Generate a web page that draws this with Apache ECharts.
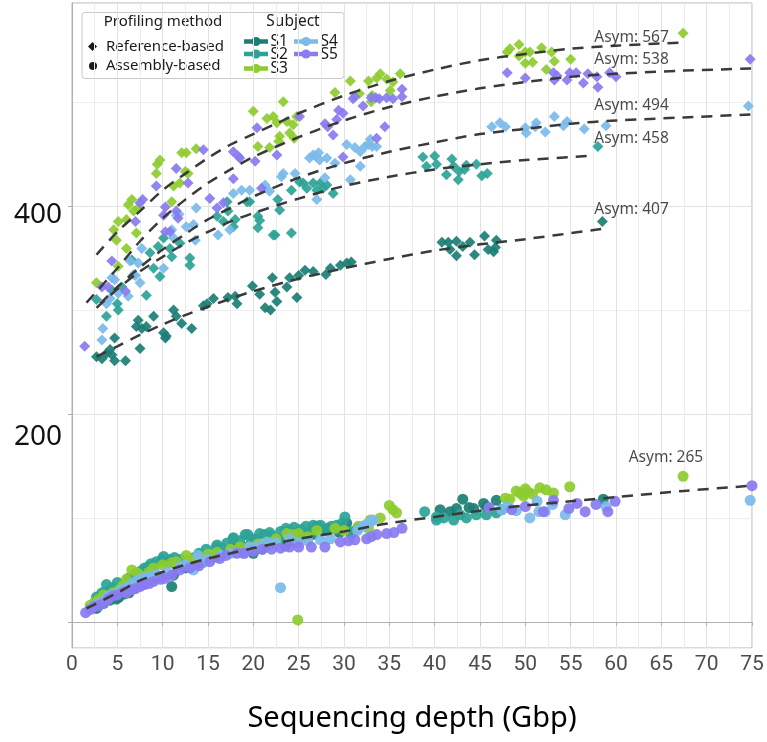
<!DOCTYPE html>
<html><head><meta charset="utf-8">
<script src="https://cdn.jsdelivr.net/npm/echarts@6/dist/echarts.min.js"></script>
<style>html,body{margin:0;padding:0;background:#fff}#c{width:767px;height:742px}</style>
</head><body><div id="c"></div>
<script>
// ---------------- data ----------------
const subjects = ['S1', 'S2', 'S3', 'S4', 'S5'];
const methods = ['Reference-based', 'Assembly-based'];
const xTicks = [0, 5, 10, 15, 20, 25, 30, 35, 40, 45, 50, 55, 60, 65, 70, 75];
const yTickLabels = [200, 400];

// Reference-based points [depth Gbp, value]
const refS1 = [[2.7,255],[3.3,253],[3.8,258],[4.2,262],[4.4,257],[4.7,251],[5.9,251],[4.7,273],[7.5,263],[7.3,290],[7.1,284],[7.7,282],[8.2,284],[9.0,294],[10.1,278],[10.3,273],[10.4,275],[11.2,300],[11.5,294],[12.1,287],[13.2,282],[14.5,304],[14.9,306],[15.6,311],[17.2,312],[18.0,313],[18.2,306],[19.9,323],[20.7,315],[21.3,302],[21.9,300],[22.1,331],[22.4,317],[22.6,308],[23.7,322],[24.0,331],[24.8,312],[25.0,333],[25.7,338],[26.6,337],[28.0,334],[28.5,340],[29.6,343],[30.3,345],[30.8,346],[40.8,365],[41.5,365],[42.4,366],[41.7,358],[42.4,352],[43.1,361],[43.9,365],[44.4,353],[45.5,371],[45.9,358],[46.5,356],[46.8,367],[46.7,360],[58.5,385]];
const refS2 = [[2.7,310],[3.8,294],[5.1,300],[5.0,306],[4.4,319],[5.5,322],[6.6,348],[8.2,314],[8.6,355],[9.0,340],[9.5,361],[9.7,332],[10.1,369],[10.8,359],[11.0,351],[11.9,364],[13.0,350],[13.0,343],[16.0,390],[16.7,385],[17.8,380],[19.3,404],[20.5,379],[17.1,404],[17.2,395],[18.0,387],[19.6,404],[20.5,390],[20.7,386],[22.4,372],[22.7,406],[22.9,396],[24.2,374],[24.2,415],[25.1,423],[25.5,422],[25.9,417],[26.6,422],[27.0,415],[27.4,422],[27.7,417],[28.1,420],[28.8,412],[22.2,372],[38.7,447],[39.1,438],[40.0,448],[40.2,440],[41.3,430],[41.9,445],[42.1,438],[42.6,425],[42.7,433],[43.3,435],[43.5,439],[44.6,440],[45.2,429],[45.8,431],[58.0,457]];
const refS3 = [[2.7,326],[5.1,342],[4.9,367],[4.6,377],[5.1,385],[6.0,387],[6.0,359],[6.2,401],[6.6,406],[6.8,395],[7.3,398],[7.1,374],[9.3,431],[9.4,440],[9.7,444],[11.0,404],[11.2,419],[11.9,422],[12.1,451],[12.6,451],[12.5,433],[12.8,431],[13.7,455],[20.5,457],[20.0,491],[23.3,500],[21.5,484],[22.6,480],[22.9,467],[22.8,462],[23.7,481],[24.4,478],[24.8,486],[24.0,470],[21.8,456],[24.5,465],[22.2,486],[29.0,509],[30.7,520],[31.7,508],[32.7,520],[33.0,500],[33.1,506],[33.6,523],[34.0,527],[34.7,522],[35.1,511],[35.4,519],[36.2,527],[48.0,548],[48.3,551],[49.3,555],[49.3,544],[50.0,548],[50.0,537],[50.5,548],[50.8,538],[51.8,552],[52.3,531],[52.9,548],[53.2,539],[55.0,541],[67.4,566]];
const refS4 = [[3.4,282],[3.3,271],[3.8,306],[4.2,311],[4.4,331],[4.7,329],[5.1,316],[6.2,313],[6.4,347],[6.8,334],[7.0,333],[7.3,345],[7.5,326],[7.7,359],[10.1,340],[11.0,377],[11.2,369],[11.5,391],[11.8,392],[12.6,380],[13.4,382],[13.6,367],[13.7,398],[16.1,372],[17.4,377],[17.8,412],[18.7,415],[19.6,415],[21.3,420],[21.8,414],[23.1,428],[23.3,431],[24.6,431],[26.2,446],[26.6,449],[26.9,448],[27.2,451],[27.3,444],[28.1,446],[29.0,441],[27.0,406],[27.9,427],[30.3,459],[30.7,425],[31.2,456],[31.8,452],[31.8,438],[32.3,457],[32.7,459],[32.9,464],[33.1,457],[33.6,457],[46.3,476],[47.2,480],[47.8,476],[50.0,475],[50.1,470],[51.1,476],[51.2,480],[52.2,471],[53.2,486],[54.2,477],[54.6,481],[56.5,474],[58.9,477],[74.6,496]];
const refS5 = [[1.4,265],[3.3,322],[4.0,322],[4.4,347],[5.9,318],[7.0,385],[7.5,403],[7.8,406],[9.3,419],[10.1,391],[10.3,399],[10.3,375],[10.8,375],[11.5,395],[11.7,388],[11.5,436],[12.8,422],[14.5,454],[15.2,407],[16.0,398],[16.7,403],[17.8,452],[17.8,426],[18.5,446],[20.2,443],[20.9,417],[18.3,448],[20.4,475],[22.6,449],[25.1,486],[27.9,479],[28.2,476],[28.8,468],[29.2,483],[29.4,492],[29.9,489],[29.9,447],[31.0,503],[31.2,505],[32.1,496],[33.0,504],[33.5,504],[33.9,503],[33.6,465],[34.5,476],[34.7,504],[35.4,503],[36.4,512],[36.4,505],[48.0,528],[50.0,523],[53.1,528],[53.2,521],[53.5,525],[54.6,521],[54.9,528],[55.6,528],[56.4,518],[56.9,527],[57.9,524],[58.0,514],[59.3,528],[60.0,524],[74.8,541]];

// Assembly-based points [depth Gbp, value]
const asmS1 = [[2.7,13],[3.0,17],[3.5,18],[3.9,23],[4.2,21],[4.6,26],[4.9,22],[5.2,24],[5.5,30],[5.8,27],[6.3,28],[6.8,32],[7.0,33],[7.8,36],[8.6,40],[9.0,42],[9.5,44],[10.0,44],[11.0,34],[11.2,45],[12.5,52],[13.0,54],[14.0,57],[14.5,58],[15.5,62],[16.0,63],[16.5,66],[17.8,74],[18.5,71],[19.0,70],[19.5,73],[20.0,66],[21.0,70],[21.5,74],[22.2,76],[23.0,78],[23.5,73],[24.2,78],[24.8,80],[25.5,81],[26.0,86],[26.5,84],[27.0,92],[28.1,88],[28.8,90],[29.5,86],[30.3,95],[30.8,85],[31.5,90],[40.6,108],[41.7,106],[42.4,109],[43.1,118],[43.8,110],[44.3,109],[45.4,114],[45.7,111],[46.8,117],[47.4,108],[58.6,118]];
const asmS2 = [[2.7,24],[3.0,20],[3.3,28],[3.6,24],[3.8,36],[4.1,30],[4.3,27],[4.5,33],[4.8,29],[5.0,38],[5.3,33],[5.6,35],[6.2,42],[6.8,44],[7.2,46],[7.6,49],[8.0,52],[8.4,53],[8.7,56],[9.0,50],[9.3,58],[9.9,60],[10.1,63],[10.6,57],[10.8,60],[11.3,62],[12.0,60],[13.5,62],[14.0,66],[14.8,70],[15.9,72],[16.0,74],[16.5,71],[17.1,76],[17.8,80],[17.8,81],[18.5,78],[19.1,84],[19.4,84],[19.8,79],[20.2,80],[20.7,85],[21.2,84],[21.8,86],[22.0,83],[22.8,80],[23.0,87],[23.6,90],[24.0,88],[24.5,91],[25.2,89],[25.8,92],[26.0,86],[26.6,93],[27.0,91],[27.4,93],[28.1,90],[28.6,92],[29.2,93],[29.8,95],[30.1,101],[30.7,87],[38.9,106],[40.2,98],[40.2,101],[41.0,100],[42.1,98],[42.8,103],[43.5,100],[44.6,103],[45.7,103],[46.8,105]];
const asmS3 = [[2.0,16],[2.5,19],[3.0,22],[3.5,26],[4.0,24],[4.5,28],[5.2,31],[5.6,35],[6.0,41],[6.6,50],[7.2,47],[7.8,44],[8.5,48],[9.0,52],[10.0,55],[11.0,57],[11.5,58],[12.6,64],[13.0,60],[13.7,61],[15.0,65],[16.0,67],[17.5,70],[18.5,72],[19.5,72],[20.5,75],[21.8,76],[22.5,80],[23.7,85],[24.3,84],[24.9,2],[25.0,85],[26.0,82],[27.0,88],[29.0,90],[30.0,88],[31.6,92],[32.7,90],[32.9,98],[34.0,100],[35.0,112],[35.4,108],[35.8,105],[47.8,119],[48.3,118],[49.0,126],[49.4,124],[49.8,121],[50.0,128],[50.3,125],[50.8,123],[51.6,129],[52.3,127],[53.1,124],[54.9,130],[67.4,140]];
const asmS4 = [[2.2,14],[2.8,17],[3.4,20],[3.8,22],[4.0,25],[4.4,26],[4.8,27],[5.5,31],[6.0,33],[6.5,36],[7.0,39],[7.5,41],[8.0,42],[8.5,44],[9.3,46],[10.5,48],[11.9,53],[12.5,55],[13.4,50],[13.9,64],[14.5,57],[15.0,60],[16.5,64],[17.5,66],[18.9,66],[19.6,72],[20.5,73],[21.5,77],[22.5,76],[23.0,33],[24.0,80],[25.0,76],[26.0,78],[27.4,79],[28.5,80],[31.5,88],[32.1,92],[32.5,94],[33.0,97],[33.2,98],[47.4,108],[48.0,111],[49.0,107],[50.5,100],[51.3,116],[51.5,106],[52.2,106],[53.0,113],[54.4,103],[58.9,111],[74.8,117]];
const asmS5 = [[1.5,9],[2.0,12],[2.5,15],[3.0,16],[3.5,18],[4.0,22],[4.5,25],[5.0,26],[5.7,29],[6.0,28],[6.5,31],[7.0,32],[7.5,34],[8.0,36],[8.5,37],[9.0,39],[9.8,41],[10.3,42],[11.0,45],[11.9,50],[13.0,52],[14.0,54],[15.2,58],[16.3,61],[17.0,64],[18.2,66],[19.0,66],[20.0,68],[21.0,70],[22.0,70],[23.0,71],[24.0,72],[25.0,72],[26.4,72],[27.9,72],[29.6,77],[30.5,78],[31.2,79],[32.5,80],[33.0,82],[33.6,84],[34.7,85],[35.5,86],[36.4,90],[46.0,110],[48.5,108],[50.0,111],[52.0,106],[53.1,117],[54.8,109],[55.7,114],[56.6,106],[57.8,113],[59.1,106],[59.9,116],[75.0,131]];

// Fitted asymptotic curves
const fitS1 = [[2.7,255],[5,265],[7.5,276],[10,286],[12.5,295],[15,303],[17.5,311],[20,318],[25,330],[30,340],[35,349],[40,357],[45,363],[50,368],[58.6,378]];
const fitS2 = [[2.7,302],[5,320],[7.5,337],[10,351],[12.5,364],[15,375],[17.5,385],[20,393],[25,407],[30,419],[35,428],[40,435],[45,440],[50,444],[57.1,448]];
const fitS3 = [[2.7,353],[5,375],[7.5,395],[10,415],[12.5,431],[15,446],[17.5,459],[20,469],[22.5,479],[25,489],[30,506],[35,520],[40,531],[45,540],[50,546],[55,551],[60,554],[67.4,557]];
const fitS4 = [[3.1,306],[5,322],[7.5,341],[10,358],[12.5,373],[15,387],[17.5,398],[20,409],[25,427],[30,441],[35,452],[40,461],[45,469],[50,474],[55,479],[60,482],[67.5,485],[75,488]];
const fitS5 = [[1.6,307],[5,340],[7.5,366],[10,388],[12.5,406],[15,422],[17.5,435],[20,447],[25,466],[30,482],[35,495],[40,505],[45,513],[50,519],[55,524],[60,527],[67.5,530],[75,532]];
const fitAsm = [[1.6,13],[5,28],[7.5,40],[10,48],[12.5,55],[15,61],[17.5,66],[20,71],[25,80],[30,87],[35,95],[40,101],[45,107],[50,112],[55,116],[60,120],[67.5,126],[75,131]];

// Asymptote annotations: [depth, value, text]
const asymNotes = [[57.6,561.5,'Asym: 567'],[57.6,541,'Asym: 538'],[57.6,496,'Asym: 494'],[57.6,465,'Asym: 458'],[57.6,396,'Asym: 407'],[61.4,158,'Asym: 265']];

// ---------------- styles ----------------
const colors = ['#1b7f74', '#2ca396', '#8dcc2e', '#7bbae9', '#897bf1'];
const refData = [refS1, refS2, refS3, refS4, refS5];
const asmData = [asmS1, asmS2, asmS3, asmS4, asmS5];
const fitData = [fitS1, fitS2, fitS3, fitS4, fitS5, fitAsm];
const FONT = "'Noto Sans', 'Open Sans', sans-serif";

const chart = echarts.init(document.getElementById('c'), null, {renderer: 'canvas'});
const series = [];
subjects.forEach((s, i) => {
  series.push({type: 'scatter', name: s + ' ' + methods[0], data: refData[i], symbol: 'diamond', symbolSize: 11,
    itemStyle: {color: colors[i], opacity: 0.92}, z: 3, silent: true});
});
subjects.forEach((s, i) => {
  series.push({type: 'scatter', name: s + ' ' + methods[1], data: asmData[i], symbol: 'circle', symbolSize: 11,
    itemStyle: {color: colors[i], opacity: 0.92}, z: 3, silent: true});
});
fitData.forEach((d, i) => {
  series.push({type: 'line', name: 'fit' + i, data: d, smooth: 0.3, showSymbol: false, symbol: 'none',
    lineStyle: {color: '#3a3a3a', width: 2.5, type: [11, 8]}, z: 5, silent: true});
});
series.push({type: 'scatter', name: 'notes', symbolSize: 0, z: 6, silent: true,
  data: asymNotes.map(a => ({value: [a[0], a[1]], label: {formatter: a[2]}})),
  label: {show: true, position: 'inside', align: 'left', verticalAlign: 'middle', fontFamily: FONT, fontSize: 15.5, color: '#1a1a1a'}});

// legend drawn as graphics
const legendEls = [
  {type: 'rect', shape: {x: 82, y: 12.5, width: 262, height: 66, r: 3}, style: {fill: '#fff', stroke: '#c9c9c9', lineWidth: 1}},
  {type: 'text', x: 163, y: 22, style: {text: 'Profiling method', font: '15px ' + FONT, fill: '#1a1a1a', align: 'center', verticalAlign: 'middle'}},
  {type: 'polygon', shape: {points: [[92.5, 42], [97, 46.5], [92.5, 51], [88, 46.5]]}, style: {fill: '#1a1a1a'}},
  {type: 'text', x: 106, y: 47, style: {text: methods[0], font: '15px ' + FONT, fill: '#1a1a1a', verticalAlign: 'middle'}},
  {type: 'circle', shape: {cx: 93, cy: 66, r: 4}, style: {fill: '#1a1a1a'}},
  {type: 'text', x: 106, y: 65.5, style: {text: methods[1], font: '15px ' + FONT, fill: '#1a1a1a', verticalAlign: 'middle'}},
  {type: 'text', x: 293, y: 22, style: {text: 'Subject', font: '15.5px ' + FONT, fill: '#1a1a1a', align: 'center', verticalAlign: 'middle'}}
];
const legPos = [[244, 41.5], [244, 54], [244, 68.5], [294, 41.5], [294, 54]];
subjects.forEach((s, i) => {
  const [lx, ly] = legPos[i];
  legendEls.push({type: 'line', shape: {x1: lx, y1: ly, x2: lx + 24, y2: ly}, style: {stroke: colors[i], lineWidth: 4.5}});
  legendEls.push({type: 'circle', shape: {cx: lx + 12, cy: ly, r: 4.5}, style: {fill: colors[i]}});
  legendEls.push({type: 'text', x: lx + 26.5, y: ly + 0.5, style: {text: s, font: '15.5px ' + FONT, fill: '#1a1a1a', verticalAlign: 'middle'}});
});

chart.setOption({
  animation: false,
  backgroundColor: '#fff',
  grid: {left: 72, right: 15, top: 3, bottom: 94, show: true, borderColor: '#b5b5b5', borderWidth: 1, containLabel: false},
  xAxis: {
    type: 'value', min: 0, max: 75, interval: 5,
    name: 'Sequencing depth (Gbp)', nameLocation: 'middle', nameGap: 56,
    nameTextStyle: {fontFamily: FONT, fontSize: 29, color: '#000'},
    axisLine: {show: true, lineStyle: {color: '#b0b0b0', width: 1}},
    axisTick: {show: true, length: 4, lineStyle: {color: '#b0b0b0'}},
    axisLabel: {fontFamily: "'Liberation Sans Narrow', 'Roboto', sans-serif", fontSize: 21, color: '#4d4d4d', margin: 6,
      formatter: v => xTicks.includes(v) ? String(v) : ''},
    splitLine: {show: true, lineStyle: {color: '#e2e2e2', width: 1}},
    minorTick: {show: false, splitNumber: 2},
    minorSplitLine: {show: true, lineStyle: {color: '#ececec', width: 1}}
  },
  yAxis: [{
    type: 'value', min: -25, max: 595, splitNumber: 5,
    axisLine: {show: true, lineStyle: {color: '#b0b0b0', width: 1}},
    axisTick: {show: false}, axisLabel: {show: false},
    splitLine: {show: true, lineStyle: {color: ['#eeeeee', '#e2e2e2'], width: 1}}
  }, {
    type: 'value', min: -25, max: 595, position: 'left',
    axisLine: {show: false},
    axisTick: {show: true, length: 4, lineStyle: {color: '#b0b0b0'}, customValues: [0, 200, 400]},
    axisLabel: {show: true, customValues: yTickLabels, margin: 10,
      formatter: v => v === 400 ? '{a|400}' : (v === 200 ? '{b|200}' : ''),
      rich: {
        a: {fontFamily: FONT, fontSize: 28, color: '#111', padding: [18, 0, 0, 0]},
        b: {fontFamily: FONT, fontSize: 28, color: '#111', padding: [46, 0, 0, 0]}
      }},
    splitLine: {show: false}
  }],
  graphic: legendEls,
  series: series
});
</script></body></html>
